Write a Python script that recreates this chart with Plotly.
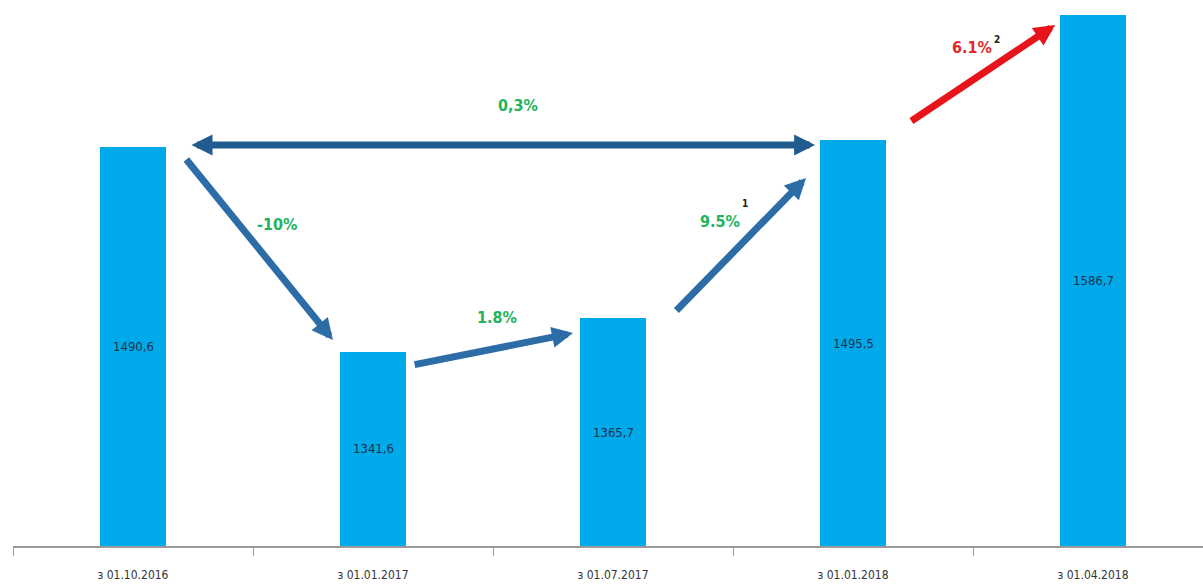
import plotly.graph_objects as go

# Categories and values
dates = ["з 01.10.2016", "з 01.01.2017", "з 01.07.2017", "з 01.01.2018", "з 01.04.2018"]
values = [1490.6, 1341.6, 1365.7, 1495.5, 1586.7]
value_labels = ["1490,6", "1341,6", "1365,7", "1495,5", "1586,7"]

# Change arrows: (from index, to index, label, superscript, colour)
changes = [
    (0, 1, "-10%", "", "#2C6DA8"),
    (1, 2, "1.8%", "", "#2C6DA8"),
    (2, 3, "9.5%", "1", "#2C6DA8"),
    (3, 4, "6.1%", "2", "#E8141B"),
]
overall = (0, 3, "0,3%")

Y_MIN, Y_MAX = 1200, 1597.5
FONT = "DejaVu Sans Condensed, Liberation Sans Narrow, Arial Narrow, sans-serif"
GREEN = "#22B35E"

fig = go.Figure()
fig.add_trace(go.Bar(
    x=dates, y=values,
    marker=dict(color="#00A9E9", line=dict(width=0)),
    width=0.275, hoverinfo="skip",
))

annotations = []
# value labels centred in the visible part of each bar
for d, v, lab in zip(dates, values, value_labels):
    annotations.append(dict(
        x=d, y=(Y_MIN + v) / 2, xref="x", yref="y", showarrow=False, text=lab,
        font=dict(family=FONT, size=13, color="#1E3350"),
    ))

# geometry of each arrow relative to its bars (category units / value units)
arrow_geom = {
    (0, 1): ((0.217, -8.1), (-0.167, 8.4)),
    (1, 2): ((0.167, -9.8), (-0.167, -10.7)),
    (2, 3): ((0.258, 4.7), (-0.196, -27.5)),
    (3, 4): ((0.237, 13.2), (-0.158, -7.4)),
}
label_geom = {
    (0, 1): (0.6, 1434),
    (1, 2): (1.517, 1366),
    (2, 3): (2.446, 1436),
    (3, 4): (3.496, 1563),
}
sup_offset = {(2, 3): 13, (3, 4): 6}
for i, j, lab, sup, col in changes:
    (dx0, dy0), (dx1, dy1) = arrow_geom[(i, j)]
    annotations.append(dict(
        x=j + dx1, y=values[j] + dy1, ax=i + dx0, ay=values[i] + dy0,
        xref="x", yref="y", axref="x", ayref="y",
        showarrow=True, arrowhead=2, arrowsize=0.6, arrowwidth=7,
        arrowcolor=col, text="", standoff=0, startstandoff=0,
    ))
    lx, ly = label_geom[(i, j)]
    annotations.append(dict(
        x=lx, y=ly, xref="x", yref="y", showarrow=False, text="<b>" + lab + "</b>",
        font=dict(family=FONT, size=16, color=("#E02A2A" if col == "#E8141B" else GREEN)),
    ))
    if sup:
        annotations.append(dict(
            x=lx + 0.104, y=ly + sup_offset[(i, j)], xref="x", yref="y", showarrow=False,
            text="<b>" + sup + "</b>", font=dict(family=FONT, size=10, color="#222222"),
        ))

# Overall change: double-headed horizontal arrow
oi, oj, olab = overall
annotations.append(dict(
    x=oj - 0.158, y=1492, ax=oi + 0.2375, ay=1492,
    xref="x", yref="y", axref="x", ayref="y",
    showarrow=True, arrowhead=2, startarrowhead=2, arrowside="end+start",
    arrowsize=0.6, startarrowsize=0.6, arrowwidth=7,
    arrowcolor="#215C90", text="", standoff=0, startstandoff=0,
))
annotations.append(dict(
    x=1.604, y=1521, xref="x", yref="y", showarrow=False, text="<b>" + olab + "</b>",
    font=dict(family=FONT, size=16, color=GREEN),
))

fig.update_layout(
    width=1203, height=584,
    margin=dict(l=13, r=0, t=0, b=38),
    plot_bgcolor="white", paper_bgcolor="white",
    showlegend=False,
    annotations=annotations,
    bargap=0,
    xaxis=dict(
        type="category", range=[-0.5, 4.458],
        showline=True, linecolor="#9A9A9A", linewidth=1.5,
        ticks="outside", tickson="boundaries", ticklen=8, tickcolor="#9A9A9A", tickwidth=1,
        ticklabelstandoff=17,
        tickfont=dict(family=FONT, size=12, color="#333333"),
        showgrid=False, zeroline=False, fixedrange=True,
    ),
    yaxis=dict(
        range=[Y_MIN, Y_MAX], visible=False, showgrid=False, zeroline=False, fixedrange=True,
    ),
)

fig.write_html("out.html")
